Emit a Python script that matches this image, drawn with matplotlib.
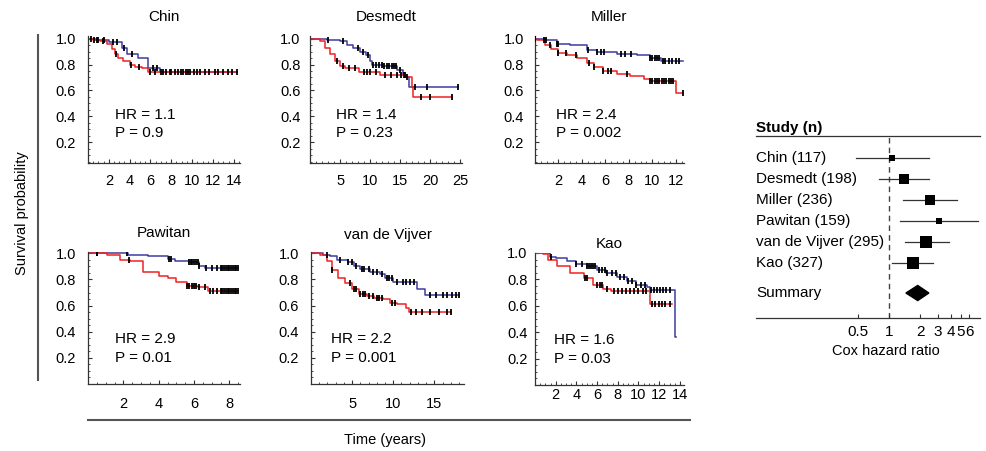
import numpy as np
import matplotlib.pyplot as plt
from matplotlib.lines import Line2D
from matplotlib.ticker import MultipleLocator, FormatStrFormatter, FixedLocator, NullLocator

plt.rcParams['font.family'] = ['Liberation Sans', 'DejaVu Sans']
plt.rcParams['font.size'] = 10.5

# ---- survival data (step times / survival, end time, censor times) ----
# blue = low risk, red = high risk
chin_blue_t = [0, 0.8, 2.0, 3.3, 3.7, 4.8, 5.8, 6.9]
chin_blue_s = [1.0, 0.99, 0.97, 0.93, 0.88, 0.85, 0.77, 0.745]
chin_blue_end = 14.3
chin_blue_cens = [0.3, 0.9, 1.5, 2.4, 2.8, 3.5, 4.2, 6.2, 6.6, 7.2, 7.9, 8.6, 9.1, 9.8,
                  10.5, 11.2, 12.5, 13.4, 14.3]
chin_red_t = [0, 0.5, 1.2, 1.8, 2.3, 2.6, 2.9, 3.4, 4.0, 4.5, 5.2, 5.8]
chin_red_s = [1.0, 0.99, 0.98, 0.96, 0.92, 0.88, 0.85, 0.83, 0.80, 0.78, 0.77, 0.745]
chin_red_end = 14.3
chin_red_cens = [0.6, 1.0, 1.4, 2.7, 4.1, 4.9, 6.0, 6.4, 7.0, 7.5, 8.0, 8.4, 8.9, 9.4, 9.6,
                 10.2, 10.8, 11.6, 12.2, 13.0, 13.8]

desmedt_blue_t = [0, 2.8, 5.0, 6.1, 7.2, 8.3, 9.4, 10.0, 10.3, 12.2, 14.4, 15.5, 16.0, 16.4]
desmedt_blue_s = [1.0, 0.99, 0.98, 0.95, 0.93, 0.90, 0.87, 0.83, 0.80, 0.79, 0.76, 0.72, 0.70, 0.63]
desmedt_blue_end = 24.7
desmedt_blue_cens = [3.0, 5.5, 8.0, 8.8, 9.6, 10.5, 11.0, 11.5, 12.0, 12.4, 12.8, 13.2, 13.6,
                     14.0, 14.3, 15.0, 15.8, 17.5, 19.5, 24.7]
desmedt_red_t = [0, 1.7, 2.5, 3.3, 4.2, 5.0, 5.8, 8.1, 11.7, 15.8, 16.9, 17.1]
desmedt_red_s = [1.0, 0.98, 0.93, 0.88, 0.83, 0.79, 0.77, 0.74, 0.72, 0.70, 0.63, 0.55]
desmedt_red_end = 23.6
desmedt_red_cens = [4.5, 5.5, 6.5, 7.5, 9.0, 9.5, 10.0, 11.0, 12.5, 13.5, 14.5, 15.2, 15.6,
                    16.2, 18.5, 20.0, 23.6]

miller_blue_t = [0, 0.9, 1.85, 3.0, 4.4, 5.3, 7.0, 8.7, 9.8, 10.7]
miller_blue_s = [1.0, 0.99, 0.96, 0.95, 0.91, 0.90, 0.88, 0.87, 0.85, 0.83]
miller_blue_end = 12.6
miller_blue_cens = [0.9, 1.9, 2.0, 4.5, 5.3, 5.6, 5.9, 7.3, 7.7, 8.2, 9.8, 10.0, 10.2, 10.4,
                    10.6, 10.9, 11.1, 11.4, 11.7, 12.0, 12.3]
miller_red_t = [0, 0.2, 0.85, 1.4, 2.0, 2.7, 3.6, 4.4, 5.0, 5.8, 7.0, 8.1, 9.3, 9.8, 12.0]
miller_red_s = [1.0, 0.99, 0.95, 0.92, 0.89, 0.87, 0.85, 0.81, 0.78, 0.75, 0.73, 0.71, 0.685,
                0.67, 0.58]
miller_red_end = 12.6
miller_red_cens = [0, 0.8, 1.3, 2.0, 2.6, 3.5, 4.6, 5.0, 5.8, 6.2, 6.5, 7.8, 9.8, 10.0, 10.2,
                   10.4, 10.6, 10.8, 11.0, 11.2, 11.4, 11.6, 11.8, 12.6]

pawitan_blue_t = [0, 2.26, 3.4, 4.5, 4.9, 5.7, 6.3, 6.6]
pawitan_blue_s = [1.0, 0.99, 0.98, 0.96, 0.94, 0.93, 0.90, 0.89]
pawitan_blue_end = 8.5
pawitan_blue_cens = [0.5, 2.2, 4.6, 4.7, 5.7, 5.8, 5.9, 6.0, 6.1, 6.2, 6.3, 6.7, 7.0, 7.3, 7.5,
                     7.6, 7.7, 7.8, 7.9, 8.0, 8.1, 8.2, 8.3, 8.4, 8.5]
pawitan_red_t = [0, 1.1, 1.8, 2.35, 3.1, 4.0, 4.5, 5.0, 5.6, 6.2, 6.8]
pawitan_red_s = [1.0, 0.99, 0.95, 0.94, 0.86, 0.83, 0.81, 0.78, 0.75, 0.74, 0.71]
pawitan_red_end = 8.5
pawitan_red_cens = [0.5, 2.3, 5.6, 5.7, 5.9, 6.0, 6.1, 6.3, 6.6, 6.9, 7.1, 7.3, 7.5, 7.6, 7.7,
                    7.8, 7.9, 8.0, 8.1, 8.2, 8.3, 8.4, 8.5]

vdv_blue_t = [0, 1.5, 2.3, 3.1, 4.5, 5.2, 6.0, 7.2, 8.4, 9.0, 10.0, 12.9, 13.9]
vdv_blue_s = [1.0, 0.99, 0.98, 0.95, 0.93, 0.90, 0.88, 0.86, 0.84, 0.81, 0.78, 0.73, 0.68]
vdv_blue_end = 18.0
vdv_blue_cens = [2.0, 3.5, 4.5, 5.0, 5.5, 6.2, 6.5, 7.0, 7.5, 8.0, 8.6, 9.2, 9.5, 9.8, 10.5,
                 11.2, 11.6, 12.0, 12.5, 14.5, 15.2, 16.0, 16.5, 17.2, 17.6, 18.0]
vdv_red_t = [0, 1.1, 1.9, 2.5, 3.3, 4.1, 5.0, 5.8, 6.8, 7.6, 8.8, 9.6, 10.4, 11.5, 11.9]
vdv_red_s = [1.0, 0.99, 0.94, 0.87, 0.81, 0.77, 0.73, 0.69, 0.67, 0.66, 0.65, 0.62, 0.61,
             0.58, 0.55]
vdv_red_end = 17.0
vdv_red_cens = [2.5, 4.8, 5.2, 5.5, 6.0, 6.3, 6.6, 7.0, 7.5, 8.0, 8.3, 8.6, 9.8, 10.2, 12.2,
                12.8, 13.5, 14.5, 15.5, 16.5, 17.0]

kao_blue_t = [0, 1.45, 2.0, 3.1, 4.0, 5.0, 6.0, 6.9, 7.9, 8.9, 9.8, 10.8, 11.1, 13.5]
kao_blue_s = [1.0, 0.97, 0.96, 0.94, 0.92, 0.90, 0.87, 0.85, 0.82, 0.79, 0.76, 0.74, 0.72, 0.36]
kao_blue_end = 13.6
kao_blue_cens = [1.5, 4.0, 4.5, 5.0, 5.2, 5.4, 5.6, 5.8, 6.2, 6.5, 6.8, 7.0, 7.4, 7.8, 8.2,
                 8.6, 9.0, 9.4, 9.8, 10.2, 10.6, 11.2, 11.5, 11.8, 12.1, 12.4, 12.7, 13.0]
kao_red_t = [0, 0.8, 1.3, 2.1, 3.4, 4.7, 5.6, 6.6, 7.3, 11.1]
kao_red_s = [1.0, 0.99, 0.95, 0.90, 0.85, 0.81, 0.76, 0.73, 0.71, 0.61]
kao_red_end = 13.2
kao_red_cens = [4.8, 5.0, 6.0, 6.3, 6.5, 7.0, 7.6, 8.0, 8.4, 8.8, 9.2, 9.6, 10.0, 10.4, 10.7,
                11.3, 11.6, 12.0, 12.3, 12.6, 13.0]

hr_text = ['1.1', '1.4', '2.4', '2.9', '2.2', '1.6']
p_text = ['0.9', '0.23', '0.002', '0.01', '0.001', '0.03']
titles = ['Chin', 'Desmedt', 'Miller', 'Pawitan', 'van de Vijver', 'Kao']

# ---- forest plot data ----
study_labels = ['Chin (117)', 'Desmedt (198)', 'Miller (236)', 'Pawitan (159)',
                'van de Vijver (295)', 'Kao (327)']
hr_vals = [1.07, 1.4, 2.5, 3.05, 2.3, 1.7]
ci_lo = [0.48, 0.80, 1.37, 1.28, 1.43, 1.07]
ci_hi = [2.44, 2.44, 4.57, 7.3, 3.83, 2.67]
summary_hr, summary_lo, summary_hi = 1.9, 1.46, 2.44
forest_ticks = [0.5, 1, 2, 3, 4, 5, 6]

BLUE = '#3c3ca0'
RED = '#ee2222'
AXC = '#333333'

W, H = 986, 451


def box(l, t, r, b):
    return [l / W, 1 - b / H, (r - l) / W, (b - t) / H]


def km(ax, t, s, t_end, cens, color):
    tt = list(t) + [t_end]
    ss = list(s) + [s[-1]]
    ax.step(tt, ss, where='post', color=color, lw=1.1, zorder=2)
    idx = np.searchsorted(t, cens, side='right') - 1
    return np.array(cens), np.array(s)[idx]


fig = plt.figure(figsize=(W / 100, H / 100), dpi=100)

curves = [
    (chin_blue_t, chin_blue_s, chin_blue_end, chin_blue_cens,
     chin_red_t, chin_red_s, chin_red_end, chin_red_cens),
    (desmedt_blue_t, desmedt_blue_s, desmedt_blue_end, desmedt_blue_cens,
     desmedt_red_t, desmedt_red_s, desmedt_red_end, desmedt_red_cens),
    (miller_blue_t, miller_blue_s, miller_blue_end, miller_blue_cens,
     miller_red_t, miller_red_s, miller_red_end, miller_red_cens),
    (pawitan_blue_t, pawitan_blue_s, pawitan_blue_end, pawitan_blue_cens,
     pawitan_red_t, pawitan_red_s, pawitan_red_end, pawitan_red_cens),
    (vdv_blue_t, vdv_blue_s, vdv_blue_end, vdv_blue_cens,
     vdv_red_t, vdv_red_s, vdv_red_end, vdv_red_cens),
    (kao_blue_t, kao_blue_s, kao_blue_end, kao_blue_cens,
     kao_red_t, kao_red_s, kao_red_end, kao_red_cens),
]

# layout per panel: pixel box, xlim, major, minor, ylim, title offset px, text x, xpad, ypad
layout = [
    ((88, 36, 240, 163), 14.6, 2, 0.5, (0.04, 1.02), 19, 0.18, 8, 8.5),
    ((310, 36, 462, 163), 25.3, 5, 1, (0.04, 1.02), 19, 0.17, 8, 7),
    ((535, 36, 684, 163), 12.7, 2, 0.5, (0.04, 1.02), 19, 0.14, 8, 8),
    ((88, 252, 240, 384), 8.6, 2, 0.5, (0.0, 1.01), 19, 0.18, 9, 8.5),
    ((311, 252, 464, 384), 18.6, 5, 1, (0.0, 1.01), 17, 0.13, 9, 8.5),
    ((535, 253, 684, 385), 14.4, 2, 0.5, (0.0, 1.0), 9, 0.13, 2.5, 5.5),
]

for i, (c, lay) in enumerate(zip(curves, layout)):
    (pb, xmax, xmaj, xmin, ylim, toff, tx, xpad, ypad) = lay
    ax = fig.add_axes(box(*pb))
    bt, bs, be, bc, rt, rs, re_, rc = c
    cb = km(ax, bt, bs, be, bc, BLUE)
    cr = km(ax, rt, rs, re_, rc, RED)
    for cx, cy in (cb, cr):
        ax.plot(cx, cy, ls='none', marker='|', ms=5, mew=1.3, color='k', zorder=3)
    ax.set_xlim(0, xmax)
    ax.set_ylim(*ylim)
    for sp in ['top', 'right']:
        ax.spines[sp].set_visible(False)
    for sp in ['left', 'bottom']:
        ax.spines[sp].set_color(AXC)
        ax.spines[sp].set_linewidth(0.9)
    ax.xaxis.set_major_locator(MultipleLocator(xmaj))
    ax.xaxis.set_minor_locator(MultipleLocator(xmin))
    ax.yaxis.set_major_locator(FixedLocator([0.2, 0.4, 0.6, 0.8, 1.0]))
    ax.yaxis.set_minor_locator(MultipleLocator(0.05))
    ax.yaxis.set_major_formatter(FormatStrFormatter('%.1f'))
    ax.set_xticks([v for v in ax.get_xticks() if 0 < v <= xmax])
    ax.tick_params(which='major', direction='in', length=2.6, width=0.8, color=AXC,
                   labelsize=10.5)
    ax.tick_params(which='minor', direction='in', length=1.4, width=0.6, color=AXC)
    ax.tick_params(axis='x', which='major', pad=xpad)
    ax.tick_params(axis='y', which='major', pad=ypad)
    ax.set_xlim(0, xmax)
    hpx = pb[3] - pb[1]
    ax.text(0.5, 1 + toff / hpx, titles[i], transform=ax.transAxes, ha='center',
            va='center', fontsize=11)
    row1 = i < 3
    ax.text(tx, 0.378 if row1 else 0.344, 'HR = ' + hr_text[i], transform=ax.transAxes,
            ha='left', va='center', fontsize=11)
    ax.text(tx, 0.236 if row1 else 0.198, 'P = ' + p_text[i], transform=ax.transAxes,
            ha='left', va='center', fontsize=11)

# shared axis labels with lines
fig.add_artist(Line2D([38 / W, 38 / W], [1 - 35 / H, 1 - 380 / H], color='#555555', lw=1.5))
fig.text(22 / W, 1 - 213 / H, 'Survival probability', rotation=90, ha='center', va='center',
         fontsize=10.5)
fig.add_artist(Line2D([88 / W, 690 / W], [1 - 420 / H, 1 - 420 / H], color='#555555', lw=1.5))
fig.text(385 / W, 1 - 440 / H, 'Time (years)', ha='center', va='center', fontsize=10.5)

# ---- forest plot ----
fa = fig.add_axes(box(756, 136, 980, 318))
fa.set_xscale('log')
fa.set_xlim(0.0511, 7.65)
rows = np.arange(len(study_labels))
summary_row = 6.43
fa.set_ylim(7.62, -1.048)
fa.axvline(1, color='#444444', lw=1.0, dashes=(4, 3), zorder=1)
for r, h, lo, hi in zip(rows, hr_vals, ci_lo, ci_hi):
    fa.plot([lo, hi], [r, r], color='#333333', lw=0.9, zorder=2)
    side = 11.0 / np.log(hi / lo)
    fa.plot([h], [r], marker='s', ms=side * 0.72, color='k', mec='k', mew=0, zorder=3)
dh = 0.36
fa.fill([summary_lo, summary_hr, summary_hi, summary_hr],
        [summary_row, summary_row - dh, summary_row, summary_row + dh], color='k', zorder=3)
for r, lab in zip(rows, study_labels):
    fa.text(0, r, lab, transform=fa.get_yaxis_transform(), ha='left', va='center', fontsize=11)
fa.text(0, summary_row, 'Summary', transform=fa.get_yaxis_transform(), ha='left',
        va='center', fontsize=11)
fa.text(0, -1.43, 'Study (n)', transform=fa.get_yaxis_transform(), ha='left', va='center',
        fontsize=11, fontweight='bold', clip_on=False)
for sp in ['left', 'right']:
    fa.spines[sp].set_visible(False)
for sp in ['top', 'bottom']:
    fa.spines[sp].set_color(AXC)
    fa.spines[sp].set_linewidth(0.9)
fa.yaxis.set_major_locator(NullLocator())
fa.yaxis.set_minor_locator(NullLocator())
fa.xaxis.set_major_locator(FixedLocator(forest_ticks))
fa.xaxis.set_minor_locator(NullLocator())
fa.set_xticklabels([('%g' % v) for v in forest_ticks])
fa.tick_params(axis='x', direction='in', length=3, width=0.8, color=AXC, labelsize=11, pad=5)
fig.text(886 / W, 1 - 351 / H, 'Cox hazard ratio', ha='center', va='center', fontsize=10.5)

fig.savefig('out.png', dpi=100)
